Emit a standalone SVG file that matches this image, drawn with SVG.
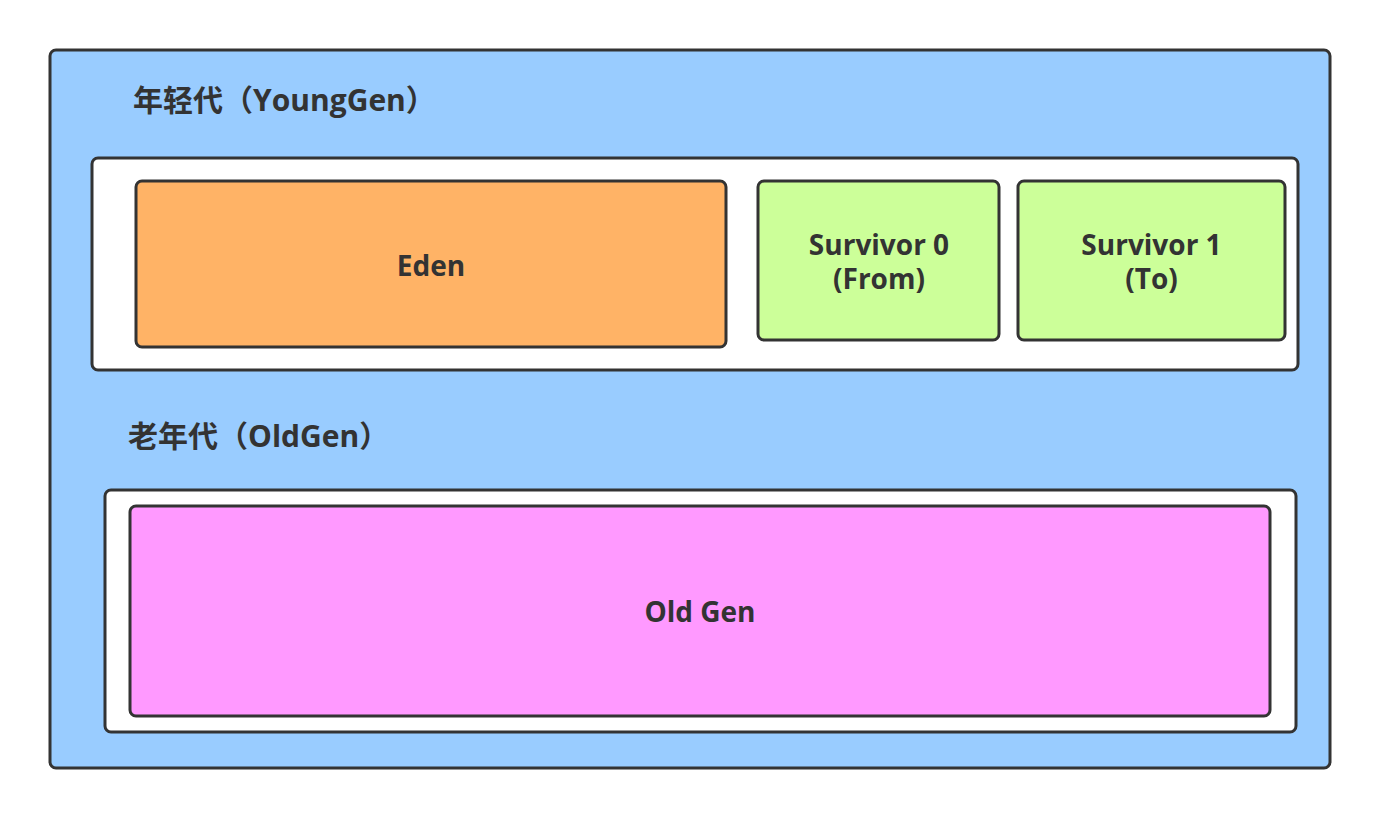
<svg xmlns="http://www.w3.org/2000/svg" width="1380" height="818" viewBox="0 0 1380 818">
<style>
.box{stroke:#333333;stroke-width:3}
.t{font-family:"Open Sans","Noto Sans CJK SC",sans-serif;font-weight:bold;font-size:28px;fill:#333333}
.h{font-family:"Open Sans","Noto Sans CJK SC",sans-serif;font-weight:bold;font-size:30px;fill:#333333}
.c{text-anchor:middle}
</style>
<rect width="1380" height="818" fill="#ffffff"/>
<g id="heap">
<rect class="box" x="50" y="50" width="1280" height="718" rx="6" fill="#99CCFF"/>
</g>
<g id="younggen-label"><text class="h" x="133" y="111">年轻代（YoungGen）</text></g>
<g id="younggen">
<rect class="box" x="92" y="158" width="1206" height="212" rx="6" fill="#ffffff"/>
</g>
<g id="eden">
<rect class="box" x="136" y="181" width="590" height="166" rx="6" fill="#FFB366"/>
<text class="t c" x="431" y="276">Eden</text>
</g>
<g id="survivor0">
<rect class="box" x="758" y="181" width="241" height="159" rx="6" fill="#CCFF99"/>
<text class="t c" x="879" y="255">Survivor 0</text>
<text class="t c" x="879" y="289">(From)</text>
</g>
<g id="survivor1">
<rect class="box" x="1018" y="181" width="267" height="159" rx="6" fill="#CCFF99"/>
<text class="t c" x="1151.5" y="255">Survivor 1</text>
<text class="t c" x="1151.5" y="289">(To)</text>
</g>
<g id="oldgen-label"><text class="h" x="128" y="447">老年代（OldGen）</text></g>
<g id="oldgen">
<rect class="box" x="105" y="490" width="1191" height="242" rx="6" fill="#ffffff"/>
</g>
<g id="oldgen-space">
<rect class="box" x="130" y="506" width="1140" height="210" rx="6" fill="#FF99FF"/>
<text class="t c" x="700" y="622">Old Gen</text>
</g>
<g id="connectors"></g>
</svg>
